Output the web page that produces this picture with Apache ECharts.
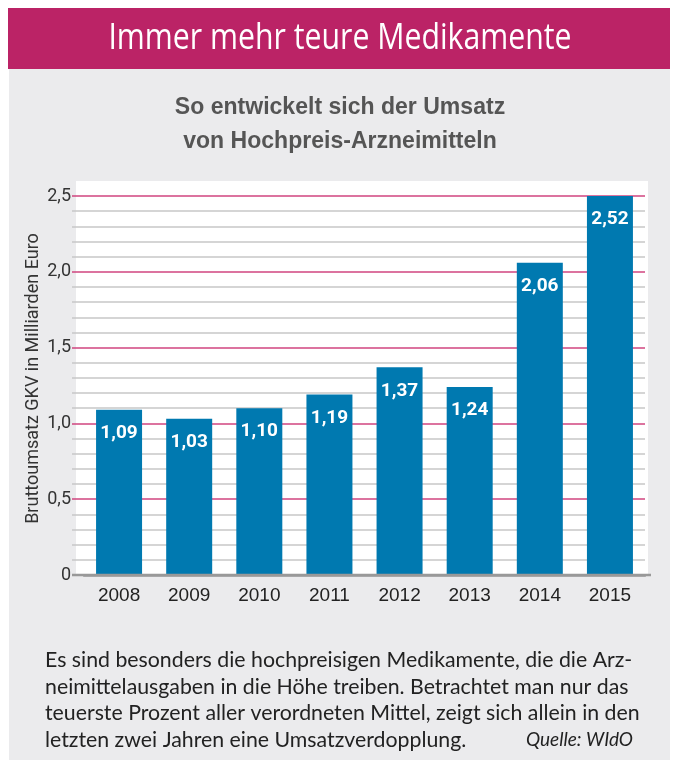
<!DOCTYPE html>
<html>
<head>
<meta charset="utf-8">
<script src="https://cdn.jsdelivr.net/npm/echarts@6/dist/echarts.min.js"></script>
<style>
  html, body { margin: 0; padding: 0; background: #fff; }
  #chart { width: 675px; height: 767px; }
</style>
</head>
<body>
<div id="chart"></div>
<script>
// Daten
const years = ['2008', '2009', '2010', '2011', '2012', '2013', '2014', '2015'];
const umsatz = [1.09, 1.03, 1.10, 1.19, 1.37, 1.24, 2.06, 2.52];
const textLines = [
  'Es sind besonders die hochpreisigen Medikamente, die die Arz-',
  'neimittelausgaben in die Höhe treiben. Betrachtet man nur das',
  'teuerste Prozent aller verordneten Mittel, zeigt sich allein in den',
  'letzten zwei Jahren eine Umsatzverdopplung.'
];

const comma = (v, d) => v.toFixed(d).replace('.', ',');

let chart = echarts.init(document.getElementById('chart'), null, {renderer: 'canvas'});

// Fließtext unten
let textEls = textLines.map((t, i) => ({
  type: 'text',
  left: 45,
  top: 650 + i * 26.5,
  z: 5,
  style: { text: t, fill: '#222', font: '21.3px Lato, "Open Sans", sans-serif' }
}));

// schmale Überschriften (per scaleX gestaucht)
function narrowText(txt, cx, cy, font, color, sx) {
  return {
    type: 'text', x: cx, y: cy, scaleX: sx, z: 5,
    style: { text: txt, x: 0, y: 0, align: 'center', verticalAlign: 'middle', fill: color, font: font }
  };
}

let option = {
  backgroundColor: '#fff',
  animation: false,
  graphic: [
    { type: 'rect', left: 9, top: 8, z: -10, shape: { width: 661, height: 752 }, style: { fill: '#ebebed' } },
    { type: 'rect', left: 8, top: 8, z: -9, shape: { width: 662, height: 61 }, style: { fill: '#bb2366' } },
    { type: 'rect', left: 76, top: 181, z: -9, shape: { width: 572, height: 394 }, style: { fill: '#fff' } },
    narrowText('Immer mehr teure Medikamente', 340, 39, '500 36px "Open Sans", sans-serif', '#fff', 0.84),
    narrowText('So entwickelt sich der Umsatz', 340, 107, 'bold 24px "Liberation Sans", sans-serif', '#555', 0.96),
    narrowText('von Hochpreis-Arzneimitteln', 340, 141, 'bold 24px "Liberation Sans", sans-serif', '#555', 0.96),
    ...textEls,
    {
      type: 'text',
      right: 42,
      top: 650 + 3 * 26.5 + 1,
      z: 5,
      style: { text: 'Quelle: WIdO', fill: '#222', font: 'italic 19px Lato, "Open Sans", sans-serif' }
    }
  ],
  grid: {
    left: 84,
    right: 30,
    top: 196,
    bottom: 192
  },
  xAxis: {
    type: 'category',
    data: years,
    axisTick: { show: false },
    axisLine: { show: true, lineStyle: { color: '#999', width: 2.5 } },
    axisLabel: { color: '#222', fontSize: 19, margin: 11, fontFamily: '"Liberation Sans", sans-serif' },
    z: 4
  },
  yAxis: {
    type: 'value',
    min: 0,
    max: 2.5,
    interval: 0.5,
    name: 'Bruttoumsatz GKV in Milliarden Euro',
    nameLocation: 'middle',
    nameGap: 42,
    nameMoveOverlap: false,
    nameTextStyle: { color: '#333', fontSize: 18, fontFamily: 'Roboto, sans-serif', padding: [0, 0, 0, 14] },
    axisLine: { show: false },
    axisTick: { show: true, length: 12, lineStyle: { color: '#d0457f', width: 1.5 } },
    minorTick: { show: true, splitNumber: 5, length: 12, lineStyle: { color: '#c8c8c8', width: 1.5 } },
    splitLine: { show: true, lineStyle: { color: '#d0457f', width: 1.5 } },
    minorSplitLine: { show: true, lineStyle: { color: '#c8c8c8', width: 1.5 } },
    axisLabel: {
      color: '#333',
      fontSize: 18,
      margin: 13,
      fontFamily: 'Roboto, sans-serif',
      formatter: (v) => v === 0 ? '0' : comma(v, 1)
    }
  },
  series: [
    {
      name: 'Umsatz',
      type: 'bar',
      data: umsatz,
      barWidth: 46,
      itemStyle: { color: '#0079b0' },
      z: 3,
      label: {
        show: true,
        position: 'insideTop',
        distance: 14,
        color: '#fff',
        fontSize: 19,
        fontWeight: 'bold',
        fontFamily: 'Roboto, sans-serif',
        formatter: (p) => comma(p.value, 2)
      }
    }
  ]
};
chart.setOption(option);

// Nulllinie etwas über die Achse hinaus verlängern
let y0 = chart.convertToPixel({ yAxisIndex: 0 }, 0);
chart.setOption({
  graphic: option.graphic.concat([
    { type: 'line', z: 10, shape: { x1: 72, y1: y0, x2: 651, y2: y0 }, style: { stroke: '#999', lineWidth: 2.5 } }
  ])
});
</script>
</body>
</html>
